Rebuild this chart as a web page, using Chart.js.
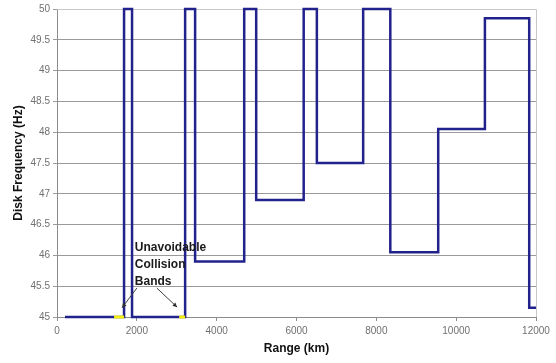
<!DOCTYPE html>
<html>
<head>
<meta charset="utf-8">
<script src="https://cdn.jsdelivr.net/npm/chart.js@4/dist/chart.umd.min.js"></script>
<style>
  html, body { margin: 0; padding: 0; background: #ffffff; }
  #wrap { width: 556px; height: 363px; }
</style>
</head>
<body>
<div id="wrap"><canvas id="chart" width="556" height="363"></canvas></div>
<script>
// Step profile of disk frequency against range (breakpoints; level holds until next point)
const stepRangeKm = [200, 1680, 1880, 3210, 3460, 4690, 4990, 6180, 6510, 7670, 8350, 9550, 10720, 11830, 12000];
const stepFreqHz  = [45, 50, 45, 50, 45.9, 50, 46.9, 50, 47.5, 50, 46.05, 48.05, 49.85, 45.15, 45.15];

// Unavoidable collision bands along the 45 Hz floor
const bandStartKm = [1430, 3060];
const bandEndKm   = [1680, 3210];
const bandFreqHz  = 45;

// Axis ticks
const xTickValues = [0, 2000, 4000, 6000, 8000, 10000, 12000];
const yTickValues = [45, 45.5, 46, 46.5, 47, 47.5, 48, 48.5, 49, 49.5, 50];

// Callout text and arrow end points (data units)
const calloutLines = ['Unavoidable', 'Collision', 'Bands'];
const calloutAnchor = { x: 1950, y: 46.13 };
const arrowTails = [{ x: 2000, y: 45.47 }, { x: 2500, y: 45.47 }];
const arrowHeads = [{ x: 1630, y: 45.15 }, { x: 3010, y: 45.16 }];

const FONT = "'Liberation Sans', Arial, sans-serif";

const profilePoints = stepRangeKm.map((x, i) => ({ x, y: stepFreqHz[i] }));
const bandPoints = [];
bandStartKm.forEach((s, i) => {
  if (i > 0) bandPoints.push({ x: (bandEndKm[i - 1] + s) / 2, y: null });
  bandPoints.push({ x: s, y: bandFreqHz }, { x: bandEndKm[i], y: bandFreqHz });
});

const frameAndCallout = {
  id: 'frameAndCallout',
  beforeDatasetsDraw(chart) {
    const { ctx, chartArea: a } = chart;
    ctx.save();
    ctx.strokeStyle = '#c8c8c8';
    ctx.lineWidth = 1;
    ctx.beginPath();
    ctx.moveTo(a.left, a.top + 0.5);
    ctx.lineTo(a.right + 0.5, a.top + 0.5);
    ctx.lineTo(a.right + 0.5, a.bottom);
    ctx.stroke();
    ctx.restore();
  },
  afterDatasetsDraw(chart) {
    const { ctx, scales: { x, y } } = chart;
    ctx.save();
    ctx.fillStyle = '#1a1a1a';
    ctx.font = 'bold 12px ' + FONT;
    ctx.textAlign = 'left';
    ctx.textBaseline = 'middle';
    const tx = x.getPixelForValue(calloutAnchor.x);
    const ty = y.getPixelForValue(calloutAnchor.y);
    calloutLines.forEach((t, i) => ctx.fillText(t, tx, ty + i * 17));

    ctx.strokeStyle = '#404040';
    ctx.fillStyle = '#303030';
    ctx.lineWidth = 1;
    arrowTails.forEach((tail, i) => {
      const x0 = x.getPixelForValue(tail.x), y0 = y.getPixelForValue(tail.y);
      const x1 = x.getPixelForValue(arrowHeads[i].x), y1 = y.getPixelForValue(arrowHeads[i].y);
      ctx.beginPath();
      ctx.moveTo(x0, y0);
      ctx.lineTo(x1, y1);
      ctx.stroke();
      const ang = Math.atan2(y1 - y0, x1 - x0), len = 5;
      ctx.beginPath();
      ctx.moveTo(x1, y1);
      ctx.lineTo(x1 - len * Math.cos(ang - 0.45), y1 - len * Math.sin(ang - 0.45));
      ctx.lineTo(x1 - len * Math.cos(ang + 0.45), y1 - len * Math.sin(ang + 0.45));
      ctx.closePath();
      ctx.fill();
    });
    ctx.restore();
  }
};

new Chart(document.getElementById('chart'), {
  type: 'line',
  data: {
    datasets: [
      {
        label: 'Disk frequency',
        data: profilePoints,
        stepped: 'before',
        borderColor: '#22228c',
        borderWidth: 2.5,
        pointRadius: 0,
        fill: false,
        clip: 4,
        order: 2
      },
      {
        label: 'Collision bands',
        data: bandPoints,
        borderColor: '#f2ee10',
        borderWidth: 3,
        pointRadius: 0,
        spanGaps: false,
        fill: false,
        clip: 4,
        order: 1
      }
    ]
  },
  options: {
    responsive: false,
    animation: false,
    events: [],
    layout: { padding: { top: 9, right: 20, left: 0, bottom: 0 } },
    plugins: { legend: { display: false }, tooltip: { enabled: false } },
    scales: {
      x: {
        type: 'linear',
        min: 0,
        max: 12000,
        afterBuildTicks(s) { s.ticks = xTickValues.map(v => ({ value: v })); },
        afterFit(s) { s.height = 46; },
        ticks: {
          callback: v => String(v),
          color: '#707070',
          font: { family: FONT, size: 10 },
          padding: 4,
          maxRotation: 0
        },
        grid: { drawOnChartArea: false, drawTicks: true, tickLength: 4, color: '#8c8c8c' },
        border: { color: '#8c8c8c' },
        title: {
          display: true,
          text: 'Range (km)',
          color: '#111111',
          font: { family: FONT, size: 12, weight: 'bold' },
          padding: { top: 0, bottom: 7 }
        }
      },
      y: {
        min: 45,
        max: 50,
        afterBuildTicks(s) { s.ticks = yTickValues.map(v => ({ value: v })); },
        afterFit(s) { s.width = 57; },
        ticks: {
          callback: v => String(v),
          color: '#707070',
          font: { family: FONT, size: 10 },
          padding: 3
        },
        grid: { color: '#9a9a9a', tickLength: 4, drawTicks: true },
        border: { color: '#8c8c8c' },
        title: {
          display: true,
          text: 'Disk Frequency (Hz)',
          color: '#111111',
          font: { family: FONT, size: 12, weight: 'bold' },
          padding: { top: 11, bottom: 0 }
        }
      }
    }
  },
  plugins: [frameAndCallout]
});
</script>
</body>
</html>
